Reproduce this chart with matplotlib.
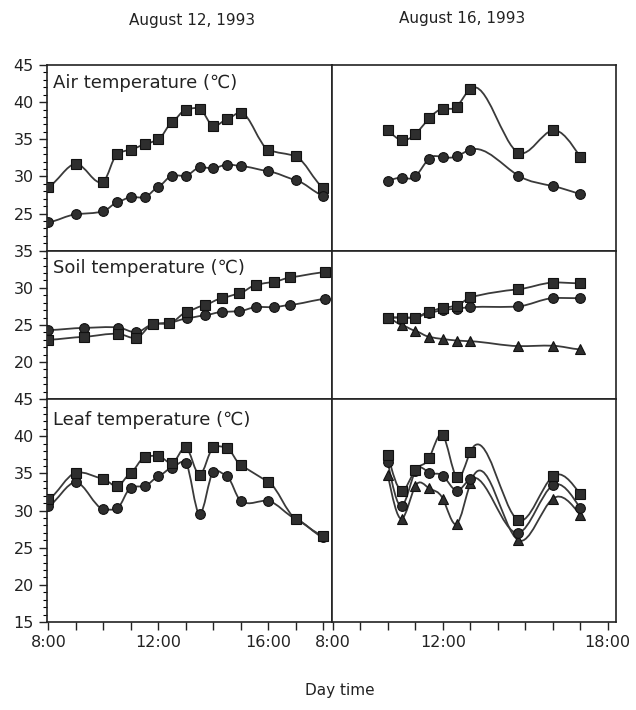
import numpy as np
import matplotlib
matplotlib.use('Agg')
import matplotlib.pyplot as plt
from matplotlib.path import Path
from matplotlib.patches import PathPatch
from matplotlib.ticker import MultipleLocator

# ---- data (hours of day, temperatures in C) ----
# August 12, 1993
t12 = [8, 9, 10, 10.5, 11, 11.5, 12, 12.5, 13, 13.5, 14, 14.5, 15, 16, 17, 18]
air12_sq = [28.6, 31.7, 29.3, 33.0, 33.6, 34.3, 35.0, 37.3, 39.0, 39.1, 36.8, 37.7, 38.6, 33.6, 32.7, 28.5]
air12_ci = [23.8, 24.9, 25.3, 26.5, 27.2, 27.2, 28.6, 30.1, 30.1, 31.2, 31.1, 31.6, 31.4, 30.7, 29.5, 27.4]

t12_soil = [8, 9.3, 10.55, 11.2, 11.8, 12.4, 13.05, 13.7, 14.3, 14.95, 15.55, 16.2, 16.8, 18.05]
soil12_sq = [23.0, 23.4, 23.8, 23.25, 25.1, 25.2, 26.8, 27.7, 28.6, 29.25, 30.4, 30.8, 31.4, 32.1]
soil12_ci = [24.3, 24.6, 24.65, 24.0, 25.1, 25.3, 25.9, 26.3, 26.75, 26.85, 27.4, 27.4, 27.7, 28.5]

leaf12_sq = [31.5, 35.1, 34.25, 33.3, 35.1, 37.2, 37.35, 36.4, 38.5, 34.8, 38.5, 38.4, 36.1, 33.9, 28.9, 26.6]
leaf12_ci = [30.6, 33.8, 30.2, 30.3, 33.1, 33.3, 34.6, 35.8, 36.4, 29.5, 35.2, 34.6, 31.3, 31.3, 28.9, 26.4]

# August 16, 1993
t16 = [10, 10.5, 11, 11.5, 12, 12.5, 13, 14.75, 16, 17]
air16_sq = [36.2, 34.9, 35.7, 37.8, 39.1, 39.4, 41.8, 33.2, 36.2, 32.6]
air16_ci = [29.4, 29.8, 30.0, 32.4, 32.6, 32.7, 33.6, 30.1, 28.7, 27.6]

soil16_sq = [26.0, 26.0, 26.0, 26.8, 27.3, 27.6, 28.7, 29.8, 30.7, 30.6]
soil16_ci = [26.0, 26.0, 26.0, 26.6, 27.0, 27.2, 27.4, 27.5, 28.6, 28.6]
soil16_tr = [26.0, 25.0, 24.2, 23.4, 23.1, 22.9, 22.8, 22.15, 22.2, 21.7]

leaf16_sq = [37.5, 32.7, 35.5, 37.05, 40.15, 34.5, 37.9, 28.7, 34.6, 32.2]
leaf16_ci = [36.5, 30.6, 35.3, 35.1, 34.7, 32.7, 34.3, 27.0, 33.4, 30.3]
leaf16_tr = [34.8, 28.9, 33.3, 33.0, 31.6, 28.2, 33.7, 26.0, 31.6, 29.4]

LINE = '#3a3a3a'
FACE = '#2e2e2e'
EDGE = '#111111'


def spline_slopes(x, y):
    # slopes of a natural cubic spline through the points
    n = len(x)
    h = np.diff(x)
    A = np.zeros((n, n))
    r = np.zeros(n)
    A[0, 0] = A[-1, -1] = 1
    for i in range(1, n - 1):
        A[i, i - 1] = h[i - 1]
        A[i, i] = 2 * (h[i - 1] + h[i])
        A[i, i + 1] = h[i]
        r[i] = 6 * ((y[i + 1] - y[i]) / h[i] - (y[i] - y[i - 1]) / h[i - 1])
    M = np.linalg.solve(A, r)
    m = np.zeros(n)
    for i in range(n - 1):
        m[i] = (y[i + 1] - y[i]) / h[i] - h[i] * (2 * M[i] + M[i + 1]) / 6
    m[-1] = (y[-1] - y[-2]) / h[-1] + h[-1] * (M[-2] + 2 * M[-1]) / 6
    return m


def soft_slopes(x, y, k=0.55):
    # damped catmull-rom slopes, nearly straight segments
    m = np.gradient(y, x)
    return m * k


def smooth_path(x, y, mode):
    x = np.asarray(x, float)
    y = np.asarray(y, float)
    m = spline_slopes(x, y) if mode == 'spline' else soft_slopes(x, y)
    h = np.diff(x)
    verts = [(x[0], y[0])]
    codes = [Path.MOVETO]
    for i in range(len(x) - 1):
        d = h[i] / 3
        verts += [(x[i] + d, y[i] + m[i] * d),
                  (x[i + 1] - d, y[i + 1] - m[i + 1] * d),
                  (x[i + 1], y[i + 1])]
        codes += [Path.CURVE4] * 3
    return Path(verts, codes)


def series(ax, x, y, marker, mode, ms=7):
    ax.add_patch(PathPatch(smooth_path(x, y, mode), fc='none', ec=LINE, lw=1.3, zorder=2))
    ax.plot(x, y, ls='none', marker=marker, ms=ms, mfc=FACE, mec=EDGE, mew=0.8, zorder=3)


fig = plt.figure(figsize=(6.36, 7.10), dpi=100)
gs = fig.add_gridspec(3, 2, height_ratios=[25, 20, 30], hspace=0, wspace=0,
                      left=47 / 636, right=616 / 636, top=1 - 65 / 710, bottom=1 - 622 / 710)

ylims = [(20, 45), (15, 35), (15, 45)]
ylabels = [[25, 30, 35, 40, 45], [20, 25, 30, 35], [15, 20, 25, 30, 35, 40, 45]]
titles = ['Air temperature (℃)', 'Soil temperature (℃)', 'Leaf temperature (℃)']
title_y = [0.905, 0.885, 0.905]

axes = [[fig.add_subplot(gs[r, c]) for c in range(2)] for r in range(3)]

for r in range(3):
    for c in range(2):
        ax = axes[r][c]
        ax.set_xlim(7.95, 18.3)
        ax.set_ylim(*ylims[r])
        for s in ax.spines.values():
            s.set_linewidth(1.2)
            s.set_color('#222222')
        ax.tick_params(labelsize=11.5, colors='#222222', direction='out')
        if c == 0:
            ax.set_yticks(ylabels[r])
            ax.yaxis.set_minor_locator(MultipleLocator(1))
            ax.tick_params(axis='y', which='major', length=6, width=1)
            ax.tick_params(axis='y', which='minor', length=3, width=0.8)
        else:
            ax.set_yticks([])
        if r == 2:
            ax.set_xticks(range(8, 19))
            ax.tick_params(axis='x', length=6, width=1)
            if c == 0:
                ax.set_xticklabels(['8:00', '', '', '', '12:00', '', '', '', '16:00', '', ''])
            else:
                ax.set_xticklabels(['8:00', '', '', '', '12:00', '', '', '', '', '', '18:00'])
        else:
            ax.set_xticks([])
    axes[r][0].text(0.022, title_y[r], titles[r], transform=axes[r][0].transAxes,
                    fontsize=13, va='center', ha='left', color='#222222',
                    family=['DejaVu Sans', 'Noto Sans CJK SC'])

# air
series(axes[0][0], t12, air12_sq, 's', 'soft')
series(axes[0][0], t12, air12_ci, 'o', 'soft')
series(axes[0][1], t16, air16_sq, 's', 'spline')
series(axes[0][1], t16, air16_ci, 'o', 'spline')
# soil
series(axes[1][0], t12_soil, soil12_ci, 'o', 'soft')
series(axes[1][0], t12_soil, soil12_sq, 's', 'soft')
series(axes[1][1], t16, soil16_tr, '^', 'soft', ms=6.5)
series(axes[1][1], t16, soil16_ci, 'o', 'soft')
series(axes[1][1], t16, soil16_sq, 's', 'soft')
# leaf
series(axes[2][0], t12, leaf12_ci, 'o', 'soft')
series(axes[2][0], t12, leaf12_sq, 's', 'soft')
series(axes[2][1], t16, leaf16_tr, '^', 'spline', ms=6.5)
series(axes[2][1], t16, leaf16_ci, 'o', 'spline')
series(axes[2][1], t16, leaf16_sq, 's', 'spline')

fig.text(192 / 636, 1 - 20 / 710, 'August 12, 1993', ha='center', va='center', fontsize=11, color='#222222')
fig.text(462 / 636, 1 - 18 / 710, 'August 16, 1993', ha='center', va='center', fontsize=11, color='#222222')
fig.text(340 / 636, 1 - 690 / 710, 'Day time', ha='center', va='center', fontsize=11, color='#222222')

fig.savefig('out.png', dpi=100)
